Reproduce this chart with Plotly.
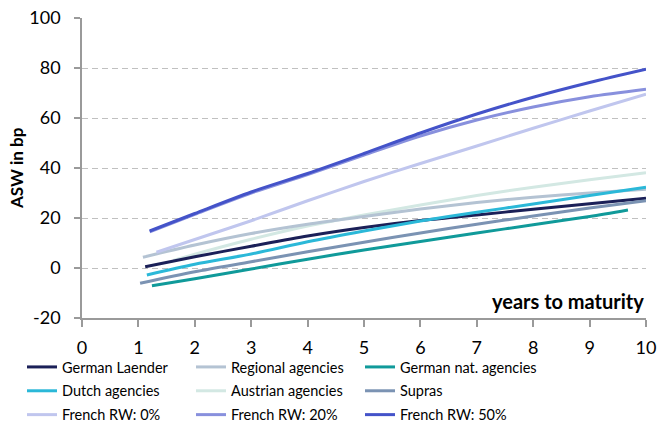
import plotly.graph_objects as go

# ---- data ----
series_names = ["German Laender", "Regional agencies", "German nat. agencies",
                "Dutch agencies", "Austrian agencies", "Supras",
                "French RW: 0%", "French RW: 20%", "French RW: 50%"]

x_laender = [1.12, 2, 3, 4, 5, 6, 7, 8, 9, 10]
y_laender = [0.5, 4.5, 8.7, 12.8, 16.2, 19.0, 21.2, 23.5, 25.7, 27.9]

x_regional = [1.08, 2, 3, 4, 5, 6, 7, 8, 9, 10]
y_regional = [4.3, 9.2, 13.8, 17.5, 20.6, 23.6, 26.2, 28.3, 30.0, 31.5]

x_natag = [1.24, 2, 3, 4, 5, 6, 7, 8, 9, 9.68]
y_natag = [-7.1, -4.3, -0.4, 3.5, 7.2, 10.6, 14.0, 17.3, 20.6, 23.2]

x_dutch = [1.15, 2, 3, 4, 5, 6, 7, 8, 9, 10]
y_dutch = [-2.8, 1.5, 5.6, 10.5, 14.8, 18.8, 22.3, 25.6, 29.0, 32.3]

x_austrian = [1.62, 2, 3, 4, 5, 6, 7, 8, 9, 10]
y_austrian = [3.0, 5.5, 11.5, 16.8, 21.2, 25.2, 29.0, 32.3, 35.3, 38.1]

x_supras = [1.03, 2, 3, 4, 5, 6, 7, 8, 9, 10]
y_supras = [-6.1, -1.5, 2.5, 6.5, 10.3, 14.0, 17.5, 20.8, 24.0, 26.9]

x_rw0 = [1.32, 2, 3, 4, 5, 6, 7, 8, 9, 10]
y_rw0 = [6.3, 11.4, 18.9, 26.9, 34.6, 41.8, 48.8, 55.9, 62.8, 69.5]

x_rw20 = [1.2, 2, 3, 4, 5, 6, 7, 8, 9, 10]
y_rw20 = [14.5, 21.5, 30.0, 37.4, 45.2, 52.8, 59.2, 64.4, 68.5, 71.5]

x_rw50 = [1.2, 2, 3, 4, 5, 6, 7, 8, 9, 10]
y_rw50 = [14.8, 21.8, 30.4, 37.8, 45.8, 54.0, 61.6, 68.3, 74.2, 79.5]

x_ticks = [0, 1, 2, 3, 4, 5, 6, 7, 8, 9, 10]
y_ticks = [-20, 0, 20, 40, 60, 80, 100]

colors = ["#1b2058", "#b4c3d3", "#109a9a",
          "#2bb8d8", "#d3e8e3", "#7b93b3",
          "#c0c6ee", "#8890dd", "#4453c9"]

xs = [x_laender, x_regional, x_natag, x_dutch, x_austrian, x_supras, x_rw0, x_rw20, x_rw50]
ys = [y_laender, y_regional, y_natag, y_dutch, y_austrian, y_supras, y_rw0, y_rw20, y_rw50]

FONT = "Lato"
LEG_FONT = 14.5

fig = go.Figure()
order = [4, 1, 6, 0, 3, 5, 2, 7, 8]
legend_ids = ["legend", "legend2", "legend3"]
for i in order:
    fig.add_trace(go.Scatter(x=xs[i], y=ys[i], mode="lines", name=series_names[i],
                             line=dict(color=colors[i], width=3, shape="spline", smoothing=0.8),
                             legend=legend_ids[i % 3], legendrank=i + 1,
                             legendgroup=series_names[i]))

def leg(x_px):
    return dict(orientation="v", xref="container", yref="container",
                x=x_px / 665, xanchor="left", y=1 - 351 / 423, yanchor="top",
                font=dict(family=FONT, size=LEG_FONT, color="#000000"),
                traceorder="grouped", itemwidth=30, tracegroupgap=2,
                bgcolor="rgba(0,0,0,0)")

fig.update_layout(
    width=665, height=423,
    margin=dict(l=82, r=19, t=18, b=105, autoexpand=False),
    paper_bgcolor="white", plot_bgcolor="white",
    font=dict(family=FONT, size=18, color="#000000"),
    showlegend=True,
    legend=leg(22), legend2=leg(191), legend3=leg(360),
    annotations=[
        dict(text="<b>years to maturity</b>", x=10, y=-20, xref="x", yref="y",
             xanchor="right", yanchor="bottom", yshift=3, showarrow=False,
             font=dict(family=FONT, size=20, color="#000000")),
        dict(text="<b>ASW in bp</b>", x=(16 - 82) / 564, y=0.5, xref="paper", yref="paper",
             xanchor="center", yanchor="middle", textangle=-90, showarrow=False,
             font=dict(family=FONT, size=17, color="#000000")),
    ],
)

fig.update_xaxes(range=[0, 10], tickvals=x_ticks, ticktext=[str(t) for t in x_ticks],
                 showgrid=False, zeroline=False, showline=True, linecolor="#9a9a9a",
                 linewidth=1.5, ticks="outside", ticklen=7, tickcolor="#9a9a9a",
                 tickwidth=1.5, ticklabelstandoff=6, tickfont=dict(size=18),
                 automargin=False, fixedrange=True)
fig.update_yaxes(range=[-20, 100], tickvals=y_ticks, ticktext=[str(t) for t in y_ticks],
                 showgrid=True, gridcolor="#c0c0c0", griddash="6px,4px", gridwidth=1,
                 zeroline=False, showline=True, linecolor="#9a9a9a", linewidth=1.5,
                 ticks="outside", ticklen=6, tickcolor="#9a9a9a", tickwidth=1.5,
                 ticklabelstandoff=10, tickfont=dict(size=18),
                 automargin=False, fixedrange=True)

fig.write_html("out.html", config={"displayModeBar": False},
               post_script="document.body.style.margin='0';document.body.style.padding='0';")
